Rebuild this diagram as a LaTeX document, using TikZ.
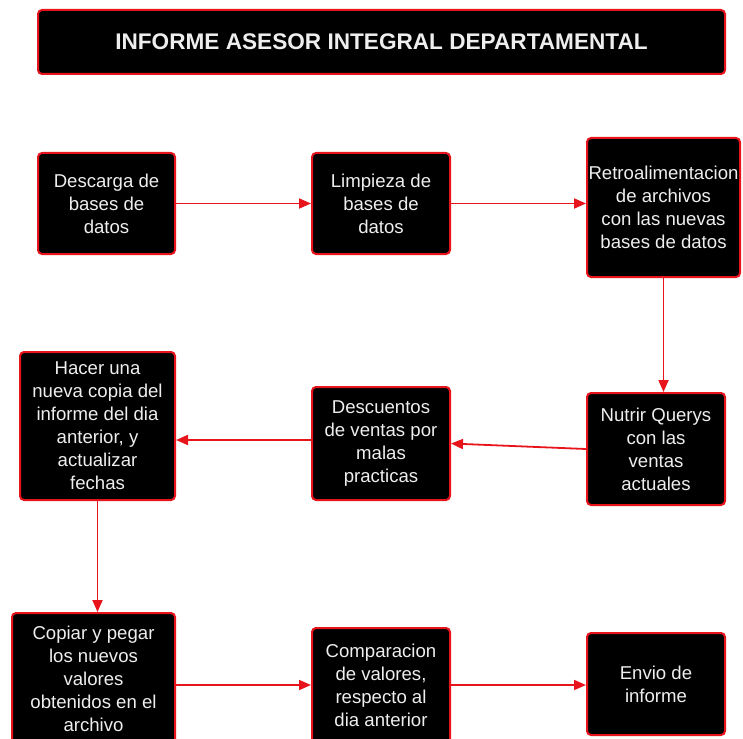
\documentclass[tikz,border=0pt]{standalone}
\usepackage{fontspec}
\setmainfont{Liberation Sans}
\usetikzlibrary{arrows.meta}
\definecolor{bred}{HTML}{E8141B}
\definecolor{btext}{HTML}{EEEEEE}
\begin{document}
\begin{tikzpicture}[x=1pt,y=-1pt,
  box/.style={draw=bred, line width=2pt, fill=black, rounded corners=4pt, text=btext,
    align=center, inner sep=0pt, font=\fontsize{18.6}{23}\selectfont},
  conn/.style={draw=bred, line width=1.8pt, -{Triangle[length=12pt,width=10pt]}}]
\useasboundingbox (0,0) rectangle (743,738);
\clip (0,0) rectangle (743,738);
\node[box, minimum width=687pt, minimum height=64pt, font=\fontsize{22.6}{26}\selectfont\bfseries] (title) at (381.5,42) {INFORME ASESOR INTEGRAL DEPARTAMENTAL};
\node[box, minimum width=137pt, minimum height=101pt] (descarga) at (106.5,203.5) {Descarga de\\bases de\\datos};
\node[box, minimum width=138pt, minimum height=101pt] (limpieza) at (381,203.5) {Limpieza de\\bases de\\datos};
\node[box, minimum width=153pt, minimum height=139pt] (retro) at (663.5,207.5) {Retroalimentacion\\de archivos\\con las nuevas\\bases de datos};
\node[box, minimum width=138pt, minimum height=112pt] (nutrir) at (656,449) {Nutrir Querys\\con las\\ventas\\actuales};
\node[box, minimum width=138pt, minimum height=113pt] (descuentos) at (381,443.5) {Descuentos\\de ventas por\\malas\\practicas};
\node[box, minimum width=155pt, minimum height=148pt] (hacer) at (97.5,426) {Hacer una\\nueva copia del\\informe del dia\\anterior, y\\actualizar\\fechas};
\node[box, minimum width=163pt, minimum height=132pt] (copiar) at (93.5,679) {Copiar y pegar\\los nuevos\\valores\\obtenidos en el\\archivo};
\node[box, minimum width=138pt, minimum height=115pt] (comparacion) at (381,685.5) {Comparacion\\de valores,\\respecto al\\dia anterior};
\node[box, minimum width=138pt, minimum height=102pt] (envio) at (656,684) {Envio de\\informe};
\draw[conn] (descarga.east) -- (limpieza.west);
\draw[conn] (limpieza.east) -- (limpieza.east -| retro.west);
\draw[conn] (retro.south) -- (retro.south |- nutrir.north);
\draw[conn] (nutrir.west) -- (descuentos.east);
\draw[conn] ([yshift=3.5pt]descuentos.west) -- ([yshift=3.5pt]descuentos.west -| hacer.east);
\draw[conn] (hacer.south) -- (hacer.south |- copiar.north);
\draw[conn] ([yshift=-6pt]copiar.east) -- ([yshift=-6pt]copiar.east -| comparacion.west);
\draw[conn] ([yshift=-6pt]copiar.east -| comparacion.east) -- ([yshift=-6pt]copiar.east -| envio.west);
\end{tikzpicture}
\end{document}
